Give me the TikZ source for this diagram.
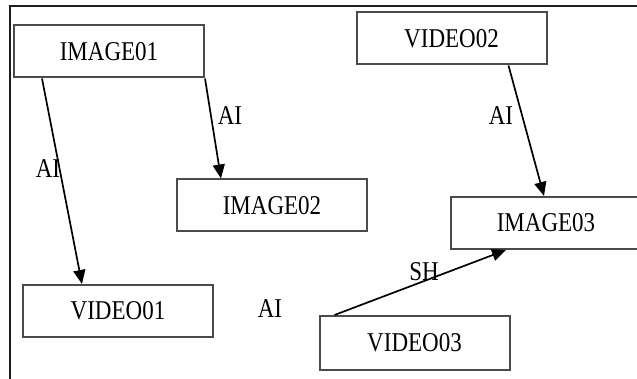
\documentclass[tikz,border=0pt]{standalone}
\usepackage{fontspec}
\setmainfont{Liberation Serif}
\usepackage{xcolor}
\usepackage{graphicx}
\usetikzlibrary{positioning, arrows.meta}
\definecolor{boxedge}{RGB}{75,75,75}
\definecolor{framedark}{RGB}{30,30,30}
\newcommand{\tallstr}[1]{\scalebox{1}[1.18]{#1}}

\begin{document}
\begin{tikzpicture}[
    x=1pt, y=-1pt,
    every node/.style={font=\fontsize{23}{26}\selectfont},
    mediabox/.style={draw=boxedge, line width=2pt, minimum width=190pt,
                     minimum height=52pt, inner sep=0pt},
    relarrow/.style={line width=1.7pt, black,
                     -{Triangle[length=14pt, width=12pt]}},
    >=Stealth
  ]

  % ============================================================
  %  Canvas and frame
  % ============================================================
  \useasboundingbox (0,0) rectangle (637,379);
  \draw[framedark, line width=2.4pt] (10,379) -- (10,6) -- (637,6);

  % ============================================================
  %  Media items
  % ============================================================
  \node[mediabox] (img01) at (109, 51.5)  {\tallstr{IMAGE01}};
  \node[mediabox] (vid02) at (451.5, 38.5) {\tallstr{VIDEO02}};
  \node[mediabox] (img02) at (272, 205.5) {\tallstr{IMAGE02}};
  \node[mediabox] (vid01) at (118, 311)   {\tallstr{VIDEO01}};
  \node[mediabox] (img03) at (546, 223)   {\tallstr{IMAGE03}};
  \node[mediabox, minimum height=54pt] (vid03) at (414.5, 343) {\tallstr{VIDEO03}};

  % ============================================================
  %  Relations
  % ============================================================
  \draw[relarrow] ([xshift=29pt]img01.south west) -- ([xshift=60pt]vid01.north west);
  \draw[relarrow] (img01.south east) -- ([xshift=45pt]img02.north west);
  \draw[relarrow] ([xshift=153pt]vid02.south west) -- ([xshift=94pt]img03.north west);
  \draw[relarrow] ([xshift=16pt]vid03.north west) -- ([xshift=56pt]img03.south west);

  % --- relation labels ---
  \node (lblA) at (48, 169)  {\tallstr{AI}};
  \node (lblB) at (230, 116) {\tallstr{AI}};
  \node (lblC) at (501, 116) {\tallstr{AI}};
  \node (lblD) at (270, 309) {\tallstr{AI}};
  \node (lblE) at (424, 272) {\tallstr{SH}};

\end{tikzpicture}
\end{document}
